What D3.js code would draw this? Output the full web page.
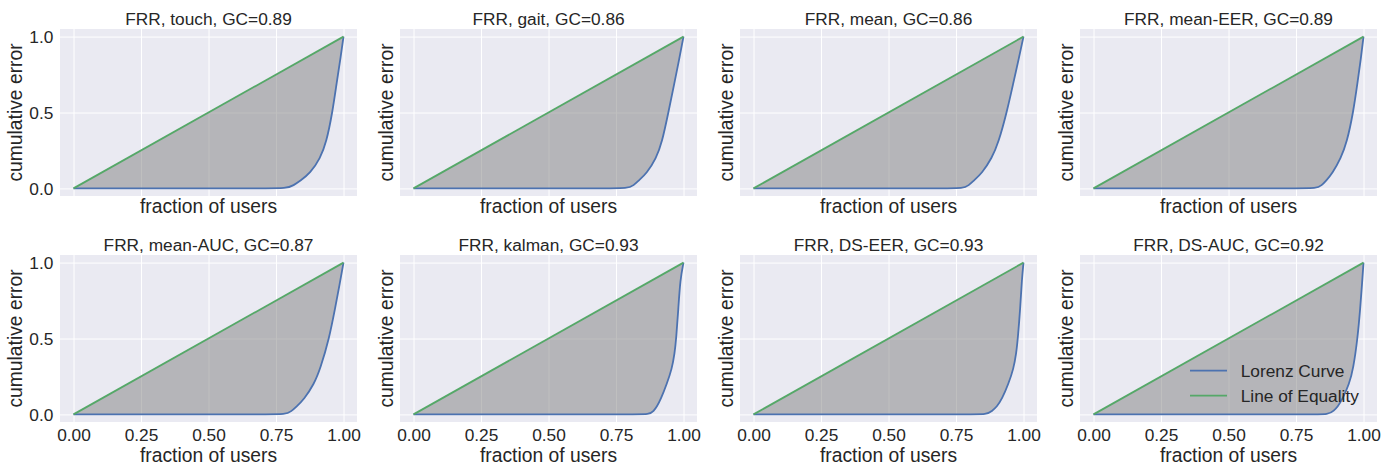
<!DOCTYPE html>
<html>
<head>
<meta charset="utf-8">
<script src="https://cdn.jsdelivr.net/npm/d3@7"></script>
<style>
  body { margin: 0; background: #fff; }
  text { font-family: "Liberation Sans", Arial, sans-serif; fill: #262626; }
</style>
</head>
<body>
<script>
var Width = 1398;
var Height = 471;

// layout of the 2 x 4 grid of axes
var Left = 60, ColStep = 340, PlotW = 297;
var RowTop = [29, 255], PlotH = 167;

var TickFont = 17.3, LabelFont = 19.3;
var Blue = "#4C72B0", Green = "#55A868";
var LineW = 1.8;

// data
var methods = ["touch", "gait", "mean", "mean-EER", "mean-AUC", "kalman", "DS-EER", "DS-AUC"];
var giniCoef = [0.89, 0.86, 0.86, 0.89, 0.87, 0.93, 0.93, 0.92];

var touchCurve  = [[0,0],[0.7,0],[0.79,0],[0.815,0.02],[0.84,0.05],[0.877,0.1],[0.914,0.2],[0.936,0.3],[0.959,0.5],[0.975,0.7],[0.99,0.87],[1,1]];
var gaitCurve   = [[0,0],[0.7,0],[0.796,0],[0.815,0.02],[0.833,0.05],[0.864,0.1],[0.899,0.2],[0.92,0.3],[0.944,0.5],[0.967,0.7],[0.984,0.85],[1,1]];
var meanCurve   = [[0,0],[0.7,0],[0.778,0],[0.797,0.02],[0.815,0.05],[0.846,0.1],[0.883,0.2],[0.907,0.3],[0.938,0.5],[0.963,0.7],[0.982,0.85],[1,1]];
var meanEERCurve= [[0,0],[0.75,0],[0.827,0],[0.845,0.02],[0.861,0.05],[0.885,0.1],[0.916,0.2],[0.938,0.3],[0.962,0.5],[0.978,0.7],[0.99,0.85],[1,1]];
var meanAUCCurve= [[0,0],[0.7,0],[0.788,0],[0.806,0.02],[0.825,0.05],[0.854,0.1],[0.891,0.2],[0.914,0.3],[0.947,0.5],[0.969,0.7],[0.985,0.85],[1,1]];
var kalmanCurve = [[0,0],[0.8,0],[0.877,0],[0.889,0.022],[0.901,0.05],[0.916,0.1],[0.938,0.2],[0.957,0.3],[0.967,0.4],[0.973,0.5],[0.981,0.7],[0.988,0.89],[1,1]];
var dsEERCurve  = [[0,0],[0.8,0],[0.864,0],[0.883,0.022],[0.901,0.05],[0.92,0.1],[0.944,0.2],[0.963,0.3],[0.973,0.4],[0.979,0.5],[0.988,0.7],[0.994,0.89],[1,1]];
var dsAUCCurve  = [[0,0],[0.8,0],[0.873,0],[0.89,0.025],[0.904,0.05],[0.922,0.1],[0.947,0.2],[0.962,0.3],[0.978,0.5],[0.988,0.7],[0.995,0.87],[1,1]];
var curves = [touchCurve, gaitCurve, meanCurve, meanEERCurve, meanAUCCurve, kalmanCurve, dsEERCurve, dsAUCCurve];

var xTicks = [0, 0.25, 0.5, 0.75, 1];
var yTicks = [0, 0.5, 1];
var legendLabels = ["Lorenz Curve", "Line of Equality"];


function main () {
  var svg = makeSVG();

  for (var i = 0; i < methods.length; i++) {
    var row = Math.floor(i / 4), col = i % 4;
    makePanel(svg, i, Left + col * ColStep, RowTop[row], row == 1, col == 0);
  }
}

function makePanel (svg, i, x0, y0, showX, showY) {
  var xScale = d3.scaleLinear().domain([-0.05, 1.05]).range([0, PlotW]);
  var yScale = d3.scaleLinear().domain([-0.05, 1.05]).range([PlotH, 0]);

  var g = svg.append("g").attr("transform", "translate(" + x0 + "," + y0 + ")");

  g.append("rect")
    .attr("width", PlotW)
    .attr("height", PlotH)
    .attr("fill", "#EAEAF2");

  // grid
  var xAxis = d3.axisBottom(xScale).tickValues(xTicks).tickSize(-PlotH)
    .tickFormat(showX ? d3.format(".2f") : "");
  var yAxis = d3.axisLeft(yScale).tickValues(yTicks).tickSize(-PlotW)
    .tickFormat(showY ? d3.format(".1f") : "");

  var gx = g.append("g")
    .attr("class", "x axis")
    .attr("transform", "translate(0," + PlotH + ")")
    .call(xAxis);
  var gy = g.append("g")
    .attr("class", "y axis")
    .call(yAxis);

  [gx, gy].forEach(function (a) {
    a.select(".domain").remove();
    a.selectAll("line").attr("stroke", "#fff").attr("stroke-width", 1);
    a.selectAll("text").style("font-size", TickFont + "px").attr("fill", "#262626");
  });
  gx.selectAll("text").attr("y", 0).attr("dy", 18.7);
  gy.selectAll("text").attr("x", -6.7).attr("dy", "0.35em");

  var data = curves[i];

  var area = d3.area()
    .x(function (d) { return xScale(d[0]); })
    .y0(function (d) { return yScale(d[1]); })
    .y1(function (d) { return yScale(d[0]); })
    .curve(d3.curveBasis);

  g.append("path")
    .datum(data)
    .attr("d", area)
    .attr("fill", "#808080")
    .attr("fill-opacity", 0.5);

  var line = d3.line()
    .x(function (d) { return xScale(d[0]); })
    .y(function (d) { return yScale(d[1]); })
    .curve(d3.curveBasis);

  g.append("path")
    .datum(data)
    .attr("d", line)
    .attr("fill", "none")
    .attr("stroke", Blue)
    .attr("stroke-width", LineW);

  g.append("path")
    .datum([[0, 0], [1, 1]])
    .attr("d", line)
    .attr("fill", "none")
    .attr("stroke", Green)
    .attr("stroke-width", LineW);

  // texts
  g.append("text")
    .attr("x", PlotW / 2)
    .attr("y", -4)
    .attr("text-anchor", "middle")
    .style("font-size", TickFont + "px")
    .text("FRR, " + methods[i] + ", GC=" + giniCoef[i].toFixed(2));

  g.append("text")
    .attr("x", PlotW / 2)
    .attr("y", PlotH + (showX ? 39.7 : 16.7))
    .attr("text-anchor", "middle")
    .style("font-size", LabelFont + "px")
    .text("fraction of users");

  g.append("text")
    .attr("transform", "translate(" + (showY ? -38.3 : -6.7) + "," + (PlotH / 2) + ") rotate(-90)")
    .attr("text-anchor", "middle")
    .style("font-size", LabelFont + "px")
    .text("cumulative error");

  if (i == methods.length - 1) makeLegend(g);
}

function makeLegend (g) {
  var colors = [Blue, Green];
  var lx = 1190 - 1080, ly = 370.7 - 255;
  legendLabels.forEach(function (lab, k) {
    var yy = ly + k * 25;
    g.append("line")
      .attr("x1", lx).attr("x2", lx + 37)
      .attr("y1", yy).attr("y2", yy)
      .attr("stroke", colors[k])
      .attr("stroke-width", LineW);
    g.append("text")
      .attr("x", lx + 50.7)
      .attr("y", yy + 6)
      .style("font-size", TickFont + "px")
      .text(lab);
  });
}

function makeSVG () {
  var svg = d3.select("body")
    .append("svg")
    .attr("width", Width)
    .attr("height", Height);
  return svg;
}

main();
</script>
</body>
</html>
